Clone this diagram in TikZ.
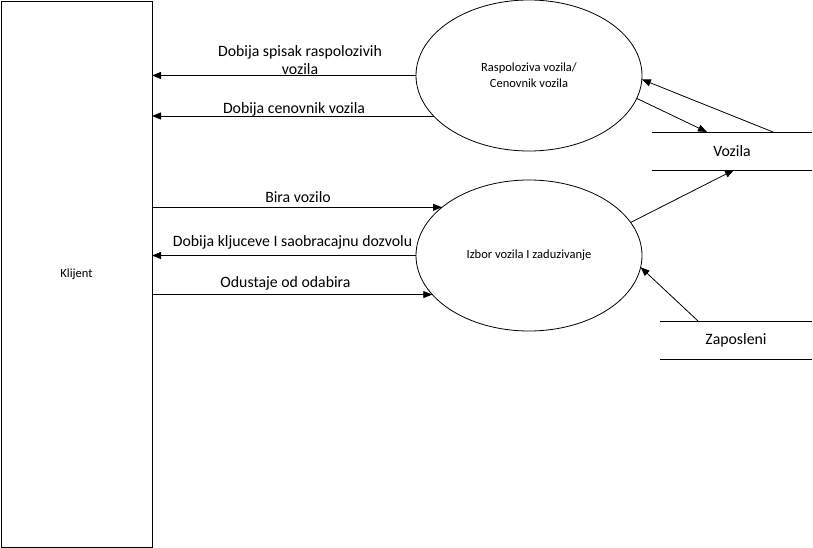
\documentclass[tikz,border=0pt]{standalone}
\usepackage{fontspec}
\setmainfont{Carlito}
\usetikzlibrary{shapes.geometric,arrows.meta,calc}
\begin{document}
\begin{tikzpicture}[x=1pt,y=-1pt,
  every node/.style={inner sep=0pt,outer sep=0pt},
  arr/.style={-{Triangle[length=9pt,width=7pt]},line width=0.8pt},
  proc/.style={draw,ellipse,line width=0.8pt,minimum width=226pt,minimum height=151pt,font=\fontsize{12.5}{16}\selectfont,align=center},
  ext/.style={draw,line width=0.8pt,minimum width=151pt,minimum height=546pt,font=\fontsize{12.5}{15}\selectfont},
  store/.style={minimum height=38pt,font=\fontsize{15.8}{18}\selectfont},
  lbl/.style={font=\fontsize{15.8}{18}\selectfont,align=center}]
\useasboundingbox (0,0) rectangle (813,548);
\node[ext] (kl) at (76.5,274) {Klijent};
\node[proc] (e1) at (529,75.5) {Raspoloziva vozila/\\Cenovnik vozila};
\node[proc] (e2) at (529,255.5) {Izbor vozila I zaduzivanje};
\node[store,minimum width=160pt] (v) at (732,151) {Vozila};
\node[store,minimum width=152pt] (z) at (736,340) {Zaposleni};
\draw[line width=0.8pt] (v.north west) -- (v.north east);
\draw[line width=0.8pt] (v.south west) -- (v.south east);
\draw[line width=0.8pt] (z.north west) -- (z.north east);
\draw[line width=0.8pt] (z.south west) -- (z.south east);
% left flows
\draw[arr] (e1.west) -- (e1.west -| kl.east);
\draw[arr] (e1.203.8) -- (e1.203.8 -| kl.east);
\draw[arr] (e2.151.6 -| kl.east) -- (e2.151.6);
\draw[arr] (e2.west) -- (e2.west -| kl.east);
\draw[arr] (e2.202.3 -| kl.east) -- (e2.202.3);
\node[lbl] (l1) at (300,60) {Dobija spisak raspolozivih\\vozila};
\node[lbl] (l2) at (294,109) {Dobija cenovnik vozila};
\node[lbl] (l3) at (298,197) {Bira vozilo};
\node[lbl] (l4) at (292.5,242) {Dobija kljuceve I saobracajnu dozvolu};
\node[lbl] (l5) at (285.5,283) {Odustaje od odabira};
% right flows
\draw[arr] (e1.348.3) -- ($(v.north west)+(55,0)$);
\draw[arr] ($(v.north west)+(121,0)$) -- (e1.358.7);
\draw[arr] (e2.18.7) -- ($(v.south west)+(82,0)$);
\draw[arr] ($(z.north west)+(38,0)$) -- (e2.354.7);
\end{tikzpicture}
\end{document}
